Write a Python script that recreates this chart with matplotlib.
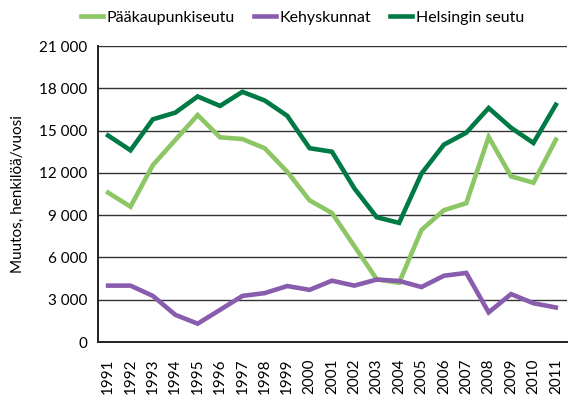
import matplotlib.pyplot as plt

years = list(range(1991, 2012))
paakaupunkiseutu = [10600, 9600, 12550, 14330, 16100, 14520, 14400, 13740, 12080, 10050,
                    9150, 6800, 4450, 4200, 7950, 9350, 9850, 14550, 11750, 11300, 14350]
kehyskunnat = [4000, 4000, 3270, 1930, 1300, 2280, 3270, 3470, 3970, 3700,
               4350, 4000, 4430, 4330, 3900, 4700, 4900, 2100, 3400, 2750, 2450]
helsingin_seutu = [14650, 13600, 15800, 16270, 17420, 16750, 17750, 17130, 16050, 13750,
                   13500, 10900, 8850, 8450, 11950, 14000, 14850, 16600, 15200, 14120, 16830]

plt.rcParams['font.family'] = ['Lato', 'DejaVu Sans']

fig = plt.figure(figsize=(5.78, 4.0), dpi=100)
ax = fig.add_axes([0.1696, 0.145, 0.8114, 0.74])

ax.plot(years, paakaupunkiseutu, color='#8cc665', lw=3.3, label='Pääkaupunkiseutu', solid_joinstyle='miter')
ax.plot(years, kehyskunnat, color='#8a5cad', lw=3.3, label='Kehyskunnat', solid_joinstyle='miter')
ax.plot(years, helsingin_seutu, color='#007a45', lw=3.3, label='Helsingin seutu', solid_joinstyle='miter')

ticks = list(range(0, 21001, 3000))
ax.set_ylim(0, 21000)
ax.set_yticks(ticks)
ax.set_yticklabels([f'{t:,}'.replace(',', ' ') for t in ticks])
ax.set_xlim(1990.55, 2011.5)
ax.set_xticks(years)
ax.set_xticklabels([str(y) for y in years], rotation=90)
ax.tick_params(length=0, labelsize=11, pad=8)
ax.tick_params(axis='x', pad=12)

for t in ticks[1:]:
    ax.axhline(t, color='#333333', lw=1.0, zorder=0)
for side in ['top', 'right']:
    ax.spines[side].set_visible(False)
for side in ['left', 'bottom']:
    ax.spines[side].set_color('#222222')
    ax.spines[side].set_linewidth(1.4)

ax.set_ylabel('Muutos, henkilöä/vuosi', fontsize=11, labelpad=10)

fig.legend(loc='upper center', bbox_to_anchor=(0.523, 1.01), ncol=3, frameon=False,
           fontsize=11.5, handlelength=1.4, handletextpad=0.2, columnspacing=1.2)

fig.savefig('out.png', dpi=100)
